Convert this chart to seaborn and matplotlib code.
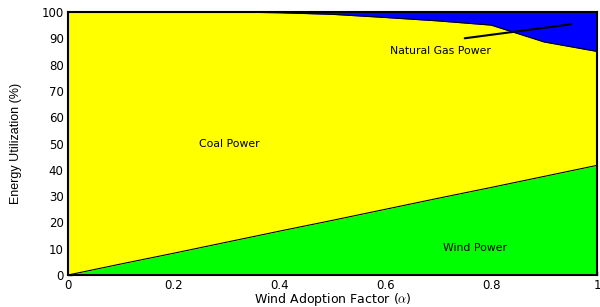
import numpy as np
import pandas as pd
import matplotlib
matplotlib.use("Agg")
import matplotlib.pyplot as plt
import seaborn as sns

# dados
alpha = [0.0, 0.1, 0.2, 0.3, 0.4, 0.5, 0.6, 0.7, 0.8, 0.9, 1.0]
wind = [0.0, 4.2, 8.3, 12.5, 16.7, 20.8, 25.0, 29.2, 33.3, 37.5, 41.7]
gas = [0.0, 0.0, 0.0, 0.0, 0.3, 0.9, 2.1, 3.4, 5.0, 11.4, 15.0]

df = pd.DataFrame({'alpha': alpha, 'wind': wind, 'gas': gas})
df['coal'] = 100 - df['wind'] - df['gas']
df['top_coal'] = df['wind'] + df['coal']

sns.set_style("ticks")
plt.rcParams['font.family'] = ['DejaVu Sans']
plt.rcParams['mathtext.fontset'] = 'cm'
plt.rcParams['text.color'] = 'black'
plt.rcParams['axes.labelcolor'] = 'black'
plt.rcParams['xtick.color'] = 'black'
plt.rcParams['ytick.color'] = 'black'

fig = plt.figure(figsize=(6, 3.07), dpi=100)
ax = fig.add_axes([0.113, 0.104, 0.882, 0.857])

ax.fill_between(df['alpha'], 0, df['wind'], color='#00FF00', linewidth=0)
ax.fill_between(df['alpha'], df['wind'], df['top_coal'], color='#FFFF00', linewidth=0)
ax.fill_between(df['alpha'], df['top_coal'], 100, color='#0000FF', linewidth=0)
sns.lineplot(data=df, x='alpha', y='wind', color='black', linewidth=0.8, ax=ax)
sns.lineplot(data=df, x='alpha', y='top_coal', color='black', linewidth=0.8, ax=ax)

# seta do gás natural
ax.plot([0.75, 0.95], [90, 95.3], color='black', linewidth=1.5)

ax.text(0.305, 49.8, 'Coal Power', fontsize=7.8, ha='center', va='center')
ax.text(0.705, 85.2, 'Natural Gas Power', fontsize=7.8, ha='center', va='center')
ax.text(0.77, 10.3, 'Wind Power', fontsize=7.8, ha='center', va='center')

ax.set_xlim(0, 1)
ax.set_ylim(0, 100)
ax.set_xticks([0, 0.2, 0.4, 0.6, 0.8, 1])
ax.set_xticklabels(['0', '0.2', '0.4', '0.6', '0.8', '1'])
ax.set_yticks(range(0, 101, 10))
ax.tick_params(direction='in', labelsize=8.5, length=3, width=1, pad=3)
ax.set_xlabel(r'Wind Adoption Factor ($\alpha$)', fontsize=9, labelpad=-1)
ax.set_ylabel('Energy Utilization (%)', fontsize=9, labelpad=14,
              family=['Liberation Sans Narrow', 'Liberation Sans'])
for s in ax.spines.values():
    s.set_linewidth(1.5)
    s.set_color('black')

fig.savefig('out.png', dpi=100)
